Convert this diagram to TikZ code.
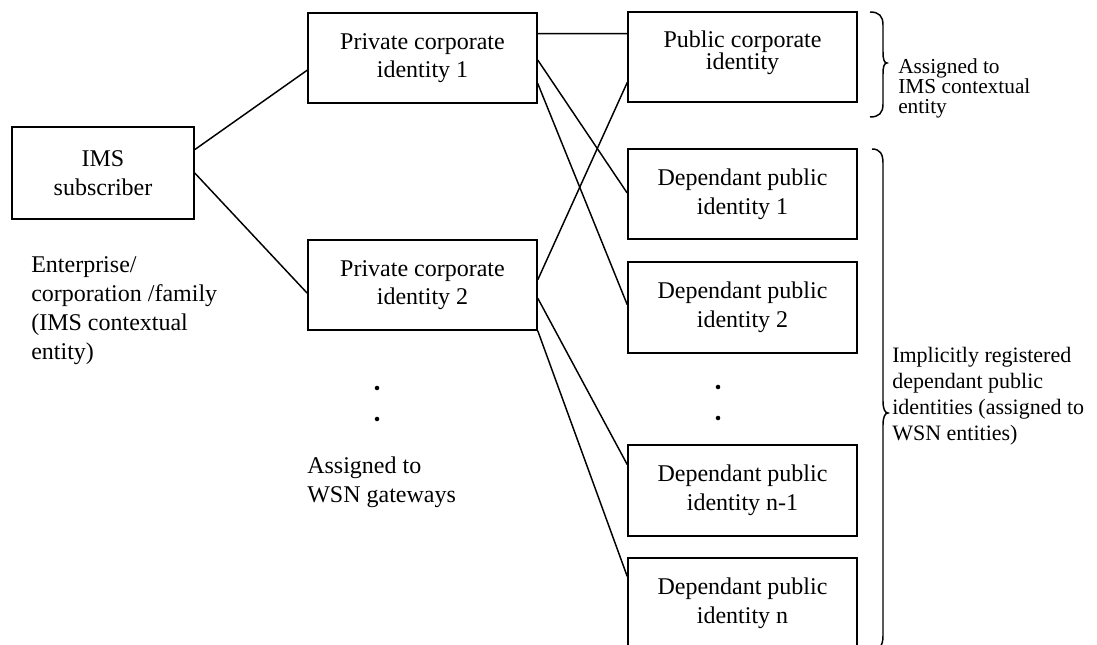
\documentclass[tikz,border=0pt]{standalone}
\usepackage{fontspec}
\setmainfont{Liberation Serif}
\usetikzlibrary{calc}
\begin{document}
\begin{tikzpicture}[x=0.75pt,y=-0.75pt,
  idbox/.style={draw, line width=1.1pt, minimum width=171.75pt, minimum height=67.5pt,
    align=center, inner sep=0pt, font=\fontsize{18}{21.5}\selectfont},
  link/.style={line width=1.1pt},
  note/.style={align=left, inner sep=0pt, anchor=north west, font=\fontsize{18}{21.75}\selectfont},
  sidenote/.style={note, font=\fontsize{16.5}{19.5}\selectfont},
  dot/.style={circle, fill, inner sep=0pt, minimum size=3.4pt},
  bracket/.style={line width=1.1pt}
]
\useasboundingbox (0,0) rectangle (1097,645);
\clip (0,0) rectangle (1097,645);

% identity boxes
\node[idbox, minimum width=136.5pt, minimum height=69pt] (ims) at (103,173) {IMS\\subscriber};
\node[idbox] (priv1) at (422.5,58) {Private corporate\\identity 1};
\node[idbox] (priv2) at (422.5,285) {Private corporate\\identity 2};
\node[idbox, font=\fontsize{18}{16.5}\selectfont] (pub) at (742.5,57) {Public corporate\\identity\\[-6.5pt]};
\node[idbox] (dep1) at (742.5,194) {Dependant public\\identity 1};
\node[idbox, minimum height=68.25pt] (dep2) at (742.5,307.5) {Dependant public\\identity 2};
\node[idbox, minimum height=68.25pt] (depn1) at (742.5,490.5) {Dependant public\\identity n-1};
\node[idbox] (depn) at (742.5,603) {Dependant public\\identity n};

% associations
\draw[link] ($(ims.north east)!0.25!(ims.south east)$) -- ($(priv1.north west)!0.633!(priv1.south west)$);
\draw[link] (ims.east) -- ($(priv2.north west)!0.59!(priv2.south west)$);
\draw[link] ($(priv1.north east)!0.233!(priv1.south east)$) -- ($(pub.north west)!0.244!(pub.south west)$);
\draw[link] ($(priv1.north east)!0.522!(priv1.south east)$) -- ($(dep1.north west)!0.49!(dep1.south west)$);
\draw[link] ($(priv1.north east)!0.778!(priv1.south east)$) -- ($(dep2.north west)!0.47!(dep2.south west)$);
\draw[link] ($(priv2.north east)!0.444!(priv2.south east)$) -- ($(pub.north west)!0.778!(pub.south west)$);
\draw[link] ($(priv2.north east)!0.644!(priv2.south east)$) -- ($(depn1.north west)!0.22!(depn1.south west)$);
\draw[link] (priv2.south east) -- ($(depn.north west)!0.21!(depn.south west)$);

% ellipsis dots
\node[dot] (gdot1) at (377,388) {};
\node[dot] (gdot2) at (377,419) {};
\node[dot] (ddot1) at (718,387) {};
\node[dot] (ddot2) at (718,418) {};

% annotations
\node[note] (entlabel) at (31,256) {Enterprise/\\corporation /family\\(IMS contextual\\entity)};
\node[note] (gwlabel) at (307,457) {Assigned to\\WSN gateways};
\node[sidenote, font=\fontsize{16}{15}\selectfont] (ctxlabel) at (898,58) {Assigned to\\IMS contextual\\entity};
\node[sidenote] (wsnlabel) at (892,347) {Implicitly registered\\dependant public\\identities (assigned to\\WSN entities)};

% curly brackets
\draw[bracket] (870,12) .. controls (879,12) and (883,16) .. (883,25) -- (883,52)
  .. controls (883,59) and (884,63) .. (887,63)
  .. controls (884,63) and (883,67) .. (883,74) -- (883,104)
  .. controls (883,113) and (879,117) .. (870,117);
\draw[bracket] (872,149) .. controls (880,149) and (883,154) .. (883,163) -- (883,401)
  .. controls (883,409) and (885,413) .. (888,413)
  .. controls (885,413) and (883,417) .. (883,425) -- (883,636)
  .. controls (883,646) and (879,651) .. (870,651);
\end{tikzpicture}
\end{document}
